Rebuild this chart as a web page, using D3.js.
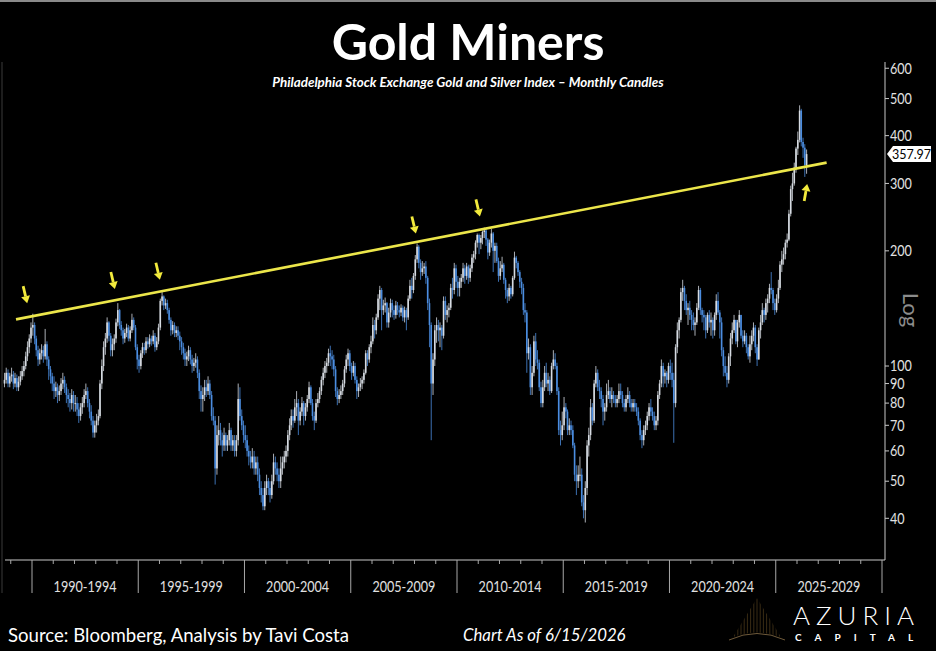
<!DOCTYPE html>
<html>
<head>
<meta charset="utf-8">
<script src="https://cdn.jsdelivr.net/npm/d3@7"></script>
<style>
  html, body { margin: 0; padding: 0; background: #000; }
  svg { display: block; }
</style>
</head>
<body>
<div id="chart"></div>
<script>
// monthly candles, first one is Sep 1988; open = previous close
const firstMonth = new Date(1988, 8, 15);
const firstOpen = 90;

const closes = [
  92, 96, 90, 94,                                              // 1988 Sep-Dec
  95, 90, 93, 88, 91, 94, 97, 100, 106, 112, 118, 126,         // 1989
  128, 118, 110, 104, 108, 110, 106, 114, 104, 98, 94, 90,     // 1990
  86, 88, 84, 86, 90, 92, 88, 84, 82, 80, 84, 80,              // 1991
  80, 77, 74, 78, 80, 84, 86, 80, 76, 72, 67, 70,              // 1992
  72, 74, 90, 100, 112, 118, 130, 120, 110, 114, 118, 130,     // 1993
  140, 128, 124, 118, 122, 126, 118, 124, 132, 126, 112, 104,  // 1994
  100, 108, 112, 110, 116, 114, 118, 116, 120, 112, 116, 126,  // 1995
  148, 152, 144, 146, 140, 132, 124, 128, 122, 124, 120, 116,  // 1996
  112, 108, 104, 106, 110, 104, 100, 102, 104, 96, 86, 82,     // 1997
  84, 88, 86, 90, 84, 74, 72, 54, 66, 68, 64, 62,              // 1998
  66, 62, 64, 68, 62, 64, 60, 64, 82, 74, 70, 66,              // 1999
  64, 60, 58, 56, 58, 54, 56, 52, 48, 46, 43, 48,              // 2000
  50, 48, 46, 50, 56, 54, 52, 50, 54, 56, 58, 60,              // 2001
  66, 70, 74, 72, 78, 80, 72, 76, 80, 74, 78, 82,              // 2002
  88, 80, 74, 72, 80, 82, 86, 92, 96, 100, 102, 108,           // 2003
  106, 104, 98, 86, 82, 84, 86, 90, 98, 104, 108, 100,         // 2004
  96, 100, 92, 86, 88, 90, 92, 96, 108, 104, 112, 116,         // 2005
  128, 124, 134, 150, 158, 140, 144, 146, 130, 138, 146, 140,  // 2006
  136, 144, 140, 138, 142, 134, 140, 134, 150, 162, 158, 172,  // 2007
  190, 205, 186, 176, 180, 182, 170, 146, 128, 90, 104, 124,   // 2008
  128, 124, 126, 120, 148, 136, 140, 142, 160, 158, 180, 166,  // 2009
  160, 166, 170, 180, 172, 182, 170, 180, 192, 196, 210, 220,  // 2010
  210, 216, 224, 226, 214, 198, 210, 222, 200, 206, 188, 172,  // 2011
  180, 184, 168, 158, 152, 160, 154, 170, 192, 186, 176, 166,  // 2012
  160, 140, 138, 108, 112, 88, 96, 116, 104, 102, 88, 80,      // 2013
  88, 96, 90, 92, 86, 100, 104, 100, 86, 68, 66, 70,           // 2014
  78, 76, 68, 70, 68, 62, 52, 50, 52, 52, 44, 42,              // 2015
  48, 62, 66, 78, 72, 90, 96, 88, 86, 82, 76, 78,              // 2016
  84, 86, 82, 84, 82, 80, 82, 86, 84, 80, 78, 82,              // 2017
  84, 80, 78, 80, 78, 76, 72, 66, 64, 68, 70, 74,              // 2018
  78, 76, 74, 70, 72, 84, 90, 100, 94, 96, 92, 100,            // 2019
  96, 92, 80, 112, 124, 132, 156, 160, 148, 140, 142, 136,     // 2020
  132, 128, 130, 142, 158, 140, 136, 134, 124, 136, 130, 132,  // 2021
  124, 136, 148, 138, 130, 110, 100, 96, 92, 106, 118, 124,    // 2022
  132, 116, 130, 136, 120, 116, 120, 112, 106, 114, 120, 126,  // 2023
  112, 104, 124, 130, 140, 136, 146, 150, 160, 158, 146, 140,  // 2024
  150, 160, 184, 190, 196, 210, 214, 250, 290, 300, 330, 370,  // 2025
  390, 465, 385, 372, 335, 357.97                              // 2026 Jan-Jun
];

const highs = [
  96, 99, 98, 96,
  99, 97, 96, 95, 94, 97, 100, 103, 109, 116, 121, 130,
  137, 130, 120, 113, 111, 114, 113, 125, 116, 106, 100, 96,
  94, 91, 90, 89, 93, 96, 94, 90, 87, 85, 87, 86,
  84, 83, 80, 80, 83, 87, 90, 88, 82, 79, 74, 72,
  75, 77, 92, 104, 116, 122, 134, 131, 122, 118, 121, 133,
  146, 141, 131, 126, 125, 129, 128, 127, 137, 134, 128, 114,
  107, 110, 115, 115, 119, 119, 121, 120, 124, 122, 119, 129,
  150, 156, 153, 150, 149, 142, 134, 131, 130, 127, 127, 123,
  119, 115, 111, 109, 113, 112, 107, 105, 108, 106, 98, 89,
  88, 92, 92, 94, 92, 86, 78, 74, 70, 74, 71, 67,
  69, 67, 66, 71, 69, 66, 66, 66, 90, 88, 77, 72,
  70, 66, 62, 60, 61, 60, 58, 58, 54, 50, 48, 50,
  52, 51, 50, 52, 59, 58, 56, 54, 58, 58, 60, 62,
  68, 73, 77, 77, 82, 86, 82, 78, 83, 81, 80, 84,
  91, 89, 82, 76, 82, 85, 88, 94, 99, 103, 105, 111,
  113, 110, 107, 100, 88, 87, 89, 92, 100, 107, 111, 110,
  102, 103, 102, 94, 90, 93, 94, 98, 110, 110, 114, 120,
  134, 132, 137, 154, 162, 160, 149, 151, 147, 142, 150, 149,
  144, 148, 147, 144, 145, 144, 143, 142, 153, 168, 170, 175,
  195, 209, 207, 190, 188, 186, 188, 172, 150, 130, 108, 128,
  134, 132, 130, 128, 152, 152, 144, 146, 164, 170, 186, 184,
  172, 170, 174, 186, 184, 186, 184, 184, 196, 200, 213, 222,
  222, 220, 226, 230, 228, 216, 214, 228, 224, 210, 210, 192,
  188, 193, 186, 170, 160, 164, 162, 172, 199, 194, 188, 178,
  170, 164, 146, 140, 118, 114, 100, 120, 122, 110, 104, 91,
  92, 100, 102, 96, 94, 102, 110, 108, 102, 88, 72, 76,
  83, 80, 77, 73, 72, 70, 63, 55, 55, 58, 54, 46,
  50, 64, 69, 82, 80, 92, 100, 98, 92, 88, 84, 80,
  90, 92, 88, 88, 86, 84, 84, 90, 90, 86, 82, 84,
  88, 86, 82, 82, 82, 80, 78, 73, 68, 70, 72, 76,
  80, 82, 78, 76, 74, 86, 92, 104, 102, 98, 97, 102,
  104, 102, 96, 114, 130, 134, 160, 168, 162, 154, 146, 148,
  140, 138, 134, 146, 162, 160, 142, 140, 136, 138, 140, 138,
  134, 138, 154, 156, 140, 134, 112, 106, 100, 108, 122, 130,
  136, 132, 132, 140, 136, 124, 124, 122, 114, 120, 124, 130,
  128, 114, 126, 136, 146, 142, 150, 154, 164, 176, 160, 150,
  154, 168, 188, 200, 204, 214, 222, 256, 296, 320, 340, 374,
  410, 480, 470, 395, 380, 368
];

const lows = [
  88, 90, 88, 88,
  91, 87, 88, 86, 86, 89, 92, 94, 98, 103, 108, 115,
  120, 114, 106, 100, 101, 104, 102, 104, 100, 92, 90, 86,
  82, 83, 80, 81, 84, 87, 85, 80, 78, 76, 77, 76,
  76, 74, 71, 72, 75, 78, 82, 78, 73, 70, 65, 65,
  67, 70, 73, 87, 97, 107, 115, 116, 106, 106, 110, 115,
  127, 125, 120, 114, 115, 119, 116, 116, 122, 124, 110, 98,
  96, 98, 105, 107, 108, 111, 112, 113, 114, 109, 110, 114,
  124, 144, 140, 141, 137, 129, 120, 121, 119, 119, 117, 110,
  107, 104, 100, 100, 103, 101, 96, 97, 99, 93, 82, 76,
  76, 81, 83, 84, 82, 72, 70, 49, 52, 62, 62, 58,
  60, 60, 60, 62, 60, 60, 58, 58, 62, 72, 68, 63,
  61, 58, 55, 54, 54, 52, 52, 50, 46, 44, 42, 42,
  46, 46, 44, 45, 49, 52, 50, 48, 48, 52, 54, 56,
  58, 64, 68, 69, 71, 74, 66, 70, 74, 70, 72, 76,
  80, 79, 72, 68, 71, 78, 80, 84, 89, 93, 96, 100,
  100, 98, 94, 83, 79, 80, 82, 84, 88, 96, 100, 97,
  92, 94, 90, 82, 83, 86, 87, 90, 95, 100, 102, 108,
  114, 118, 121, 132, 140, 124, 136, 138, 126, 126, 134, 134,
  132, 133, 136, 134, 135, 131, 130, 124, 132, 148, 150, 155,
  168, 186, 180, 168, 172, 174, 164, 140, 112, 64, 84, 100,
  115, 116, 112, 110, 118, 132, 130, 134, 140, 150, 154, 160,
  152, 152, 160, 166, 164, 168, 164, 166, 176, 186, 190, 204,
  196, 202, 208, 216, 206, 190, 194, 204, 176, 186, 186, 166,
  168, 176, 164, 150, 146, 148, 150, 152, 168, 180, 172, 160,
  154, 136, 130, 96, 104, 84, 84, 94, 100, 98, 86, 78,
  78, 86, 88, 86, 84, 85, 98, 98, 84, 66, 62, 64,
  68, 73, 66, 66, 66, 61, 50, 46, 48, 50, 43, 40,
  39, 46, 58, 64, 70, 71, 88, 86, 82, 78, 70, 72,
  76, 82, 80, 78, 80, 78, 78, 80, 82, 78, 76, 76,
  80, 78, 76, 76, 76, 74, 70, 64, 61, 62, 66, 68,
  72, 74, 72, 68, 68, 70, 82, 88, 88, 90, 88, 90,
  92, 88, 63, 78, 108, 118, 130, 148, 140, 136, 128, 132,
  124, 124, 120, 128, 140, 136, 130, 124, 118, 122, 126, 120,
  118, 120, 132, 136, 118, 106, 94, 94, 88, 90, 100, 114,
  122, 114, 112, 126, 118, 112, 114, 108, 104, 102, 110, 116,
  108, 100, 104, 118, 128, 130, 132, 138, 146, 154, 140, 136,
  138, 146, 158, 176, 184, 190, 204, 212, 246, 270, 296, 320,
  356, 384, 375, 350, 312, 318
];

const yTicks = [40, 50, 60, 70, 80, 90, 100, 200, 300, 400, 500, 600];
const periodStarts = [1990, 1995, 2000, 2005, 2010, 2015, 2020, 2025];
const periodLabels = ["1990-1994", "1995-1999", "2000-2004", "2005-2009",
                      "2010-2014", "2015-2019", "2020-2024", "2025-2029"];
const lastPrice = 357.97;

// resistance line drawn through the peaks
const trendLine = [
  { date: new Date(1989, 3, 1), value: 132.4 },
  { date: new Date(2027, 4, 25), value: 340 }
];
// arrow tips (date, value); up = pointing up
const arrows = [
  { date: new Date(1989, 9, 10), value: 146, up: false },
  { date: new Date(1993, 10, 25), value: 159, up: false },
  { date: new Date(1996, 0, 8), value: 168, up: false },
  { date: new Date(2008, 0, 25), value: 222, up: false },
  { date: new Date(2011, 0, 30), value: 246, up: false },
  { date: new Date(2026, 5, 25), value: 299, up: true }
];

const width = 936;
const height = 651;

const svg = d3.select("#chart")
  .append("svg")
  .attr("width", width)
  .attr("height", height)
  .style("background", "#000");

const x = d3.scaleTime()
  .domain([new Date(1990, 0, 1), new Date(2030, 0, 1)])
  .range([32, 882]);

const y = d3.scaleLog()
  .domain([31.5, 623])
  .range([558, 62]);

const sans = "Lato, 'Open Sans', sans-serif";

// thin frame bits
svg.append("rect").attr("x", 0).attr("y", 0).attr("width", width).attr("height", 2).attr("fill", "#8a8a8a");
svg.append("line").attr("x1", 2).attr("x2", 2).attr("y1", 62).attr("y2", 593)
  .attr("stroke", "#3a3a3a").attr("stroke-width", 1);

// --- titles ---
svg.append("text")
  .attr("x", 468).attr("y", 60)
  .attr("text-anchor", "middle")
  .attr("fill", "#fff")
  .style("font-family", sans)
  .style("font-weight", "700")
  .style("font-size", "50px")
  .text("Gold Miners");

svg.append("text")
  .attr("x", 468).attr("y", 87)
  .attr("text-anchor", "middle")
  .attr("fill", "#fff")
  .style("font-family", sans)
  .style("font-weight", "700")
  .style("font-style", "italic")
  .style("font-size", "13.4px")
  .text("Philadelphia Stock Exchange Gold and Silver Index \u2013 Monthly Candles");

// --- candles ---
const candles = closes.map((c, i) => ({
  date: d3.timeMonth.offset(firstMonth, i),
  open: i === 0 ? firstOpen : closes[i - 1],
  high: highs[i],
  low: lows[i],
  close: c
}));

const upColor = "#d6dbe2";
const downColor = "#4b8de0";

const candleGroup = svg.append("g").attr("class", "candles");

candleGroup.selectAll("line")
  .data(candles)
  .enter()
  .append("line")
  .attr("x1", d => x(d.date))
  .attr("x2", d => x(d.date))
  .attr("y1", d => y(d.high))
  .attr("y2", d => y(d.low))
  .attr("stroke", d => d.close >= d.open ? upColor : downColor)
  .attr("stroke-width", 0.8);

candleGroup.selectAll("rect")
  .data(candles)
  .enter()
  .append("rect")
  .attr("x", d => x(d.date) - 0.8)
  .attr("width", 1.6)
  .attr("y", d => y(Math.max(d.open, d.close)))
  .attr("height", d => Math.max(1, Math.abs(y(d.open) - y(d.close))))
  .attr("fill", d => d.close >= d.open ? upColor : downColor);

// --- trend line ---
svg.append("line")
  .attr("x1", x(trendLine[0].date))
  .attr("y1", y(trendLine[0].value))
  .attr("x2", x(trendLine[1].date))
  .attr("y2", y(trendLine[1].value))
  .attr("stroke", "#ece64a")
  .attr("stroke-width", 2.6);

// --- arrows ---
const arrowGroup = svg.append("g").attr("class", "arrows");
arrows.forEach(a => {
  const tx = x(a.date), ty = y(a.value);
  const dir = a.up ? -1 : 1;             // +1 = pointing down
  const dx = a.up ? 3 : 4, dy = 17 * dir;
  const sx = tx - dx, sy = ty - dy;      // tail
  const len = Math.hypot(dx, dy);
  const ux = dx / len, uy = dy / len;    // unit towards tip
  const bx = tx - ux * 7, by = ty - uy * 7;
  arrowGroup.append("line")
    .attr("x1", sx).attr("y1", sy)
    .attr("x2", bx).attr("y2", by)
    .attr("stroke", "#f2ea3c")
    .attr("stroke-width", 2.8);
  arrowGroup.append("path")
    .attr("d", `M${tx},${ty} L${bx - uy * 4.5},${by + ux * 4.5} L${bx + uy * 4.5},${by - ux * 4.5} Z`)
    .attr("fill", "#f2ea3c");
});

// --- right axis ---
const axisColor = "#c8c8c8";
svg.append("line")
  .attr("x1", 885).attr("x2", 885)
  .attr("y1", 62).attr("y2", 560)
  .attr("stroke", axisColor).attr("stroke-width", 1);

const yTickG = svg.append("g").selectAll("g")
  .data(yTicks)
  .enter()
  .append("g")
  .attr("transform", d => `translate(885, ${y(d)})`);

yTickG.append("line")
  .attr("x1", 0).attr("x2", 4)
  .attr("stroke", axisColor);

yTickG.append("text")
  .attr("x", 5)
  .attr("dy", "0.35em")
  .attr("fill", "#e2e2e2")
  .attr("textLength", d => String(d).length * 7.3)
  .attr("lengthAdjust", "spacingAndGlyphs")
  .style("font-family", sans)
  .style("font-size", "15px")
  .text(d => d);

svg.append("text")
  .attr("transform", "translate(903, 310) rotate(90)")
  .attr("text-anchor", "middle")
  .attr("fill", "#8c8c8c")
  .style("font-family", sans)
  .style("font-size", "22px")
  .text("Log");

// last price tag
const ly = y(lastPrice);
svg.append("path")
  .attr("d", `M887,${ly} L893,${ly - 8} L931,${ly - 8} L931,${ly + 8} L893,${ly + 8} Z`)
  .attr("fill", "#fff");
svg.append("text")
  .attr("x", 911.5).attr("y", ly)
  .attr("dy", "0.36em")
  .attr("text-anchor", "middle")
  .attr("fill", "#000")
  .style("font-family", sans)
  .style("font-size", "12.5px")
  .text(lastPrice.toFixed(2));

// --- bottom axis ---
svg.append("line")
  .attr("x1", 5).attr("x2", 885)
  .attr("y1", 560).attr("y2", 560)
  .attr("stroke", axisColor);

const years = d3.range(1989, 2031).map(yr => new Date(yr, 0, 1));
svg.append("g").selectAll("line")
  .data(years)
  .enter()
  .append("line")
  .attr("x1", d => x(d)).attr("x2", d => x(d))
  .attr("y1", 560)
  .attr("y2", d => d.getFullYear() % 5 === 0 ? 593 : 564)
  .attr("stroke", "#a8a8a8");

svg.append("g").selectAll("text")
  .data(periodStarts)
  .enter()
  .append("text")
  .attr("x", d => (x(new Date(d, 0, 1)) + x(new Date(d + 5, 0, 1))) / 2 - 31.5)
  .attr("y", 592)
  .attr("fill", "#e0e0e0")
  .attr("textLength", 63)
  .attr("lengthAdjust", "spacingAndGlyphs")
  .style("font-family", sans)
  .style("font-size", "16px")
  .text((d, i) => periodLabels[i]);

// --- footer ---
svg.append("text")
  .attr("x", 8).attr("y", 642)
  .attr("fill", "#fff")
  .style("font-family", sans)
  .style("font-size", "18.6px")
  .text("Source: Bloomberg, Analysis by Tavi Costa");

svg.append("text")
  .attr("x", 463).attr("y", 641)
  .attr("fill", "#fff")
  .style("font-family", sans)
  .style("font-style", "italic")
  .style("font-size", "16.8px")
  .text("Chart As of 6/15/2026");

// logo
const logo = svg.append("g").attr("class", "logo");
const defs = svg.append("defs");
const grad = defs.append("linearGradient").attr("id", "gold").attr("x1", 0).attr("x2", 0).attr("y1", 0).attr("y2", 1);
grad.append("stop").attr("offset", "0%").attr("stop-color", "#f2dcae");
grad.append("stop").attr("offset", "100%").attr("stop-color", "#8c6a35");
defs.append("clipPath").attr("id", "tri")
  .append("path").attr("d", "M757,598 L781,637 Q757,628 733,637 Z");
const stripes = logo.append("g").attr("clip-path", "url(#tri)");
d3.range(733, 782, 1.6).forEach((sx, i) => {
  stripes.append("line")
    .attr("x1", sx).attr("x2", sx)
    .attr("y1", 596).attr("y2", 640)
    .attr("stroke", i % 2 ? "#3a2c14" : "url(#gold)")
    .attr("stroke-width", 1);
});
logo.append("path")
  .attr("d", "M729,640 Q757,627 785,640")
  .attr("fill", "none")
  .attr("stroke", "#6f5a3a")
  .attr("stroke-width", 1);

logo.append("text")
  .attr("x", 793).attr("y", 625)
  .attr("fill", "#fff")
  .style("font-family", sans)
  .style("font-weight", "300")
  .style("font-size", "26px")
  .style("letter-spacing", "6px")
  .text("AZURIA");

logo.append("text")
  .attr("x", 795).attr("y", 641)
  .attr("fill", "#fff")
  .style("font-family", sans)
  .style("font-weight", "700")
  .style("font-size", "10px")
  .style("letter-spacing", "13px")
  .text("CAPITAL");
</script>
</body>
</html>
